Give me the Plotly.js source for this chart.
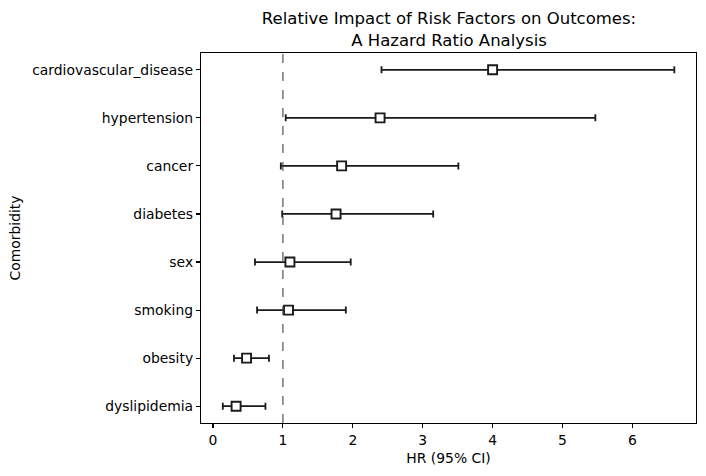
<!DOCTYPE html>
<html>
<head>
<meta charset="utf-8">
<script src="https://cdn.plot.ly/plotly-3.0.1.min.js"></script>
<style>html,body{margin:0;padding:0;background:#fff;}#chart{width:706px;height:476px;}</style>
</head>
<body>
<div id="chart"></div>
<script>
const categories = ["dyslipidemia", "obesity", "smoking", "sex", "diabetes", "cancer", "hypertension", "cardiovascular_disease"];
const hr = [0.33, 0.48, 1.08, 1.10, 1.76, 1.84, 2.39, 4.00];
const ciLow = [0.14, 0.30, 0.63, 0.60, 0.99, 0.97, 1.04, 2.41];
const ciHigh = [0.75, 0.80, 1.90, 1.97, 3.15, 3.51, 5.47, 6.60];
const xTicks = [0, 1, 2, 3, 4, 5, 6];

const errPlus = hr.map((v, i) => ciHigh[i] - v);
const errMinus = hr.map((v, i) => v - ciLow[i]);

const trace = {
  type: 'scatter',
  mode: 'markers',
  x: hr,
  y: categories,
  marker: {symbol: 'square', size: 9, color: '#ffffff', line: {color: '#1a1a1a', width: 1.9}},
  error_x: {type: 'data', symmetric: false, array: errPlus, arrayminus: errMinus,
            color: '#1a1a1a', thickness: 1.8, width: 3.5},
  hoverinfo: 'x+y'
};

const font = {family: 'DejaVu Sans, sans-serif', color: '#000', size: 13.9};

const layout = {
  width: 706, height: 476,
  margin: {l: 201, r: 10, t: 53, b: 53},
  paper_bgcolor: '#fff', plot_bgcolor: '#fff',
  font: font,
  showlegend: false,
  title: {text: 'Relative Impact of Risk Factors on Outcomes:<br>A Hazard Ratio Analysis',
          font: {family: 'DejaVu Sans, sans-serif', size: 16.5, color: '#000'},
          x: 0.636, xanchor: 'center', y: 0.949, yanchor: 'top'},
  xaxis: {
    range: [-0.172, 6.91], tickvals: xTicks, ticktext: xTicks.map(String),
    showgrid: false, zeroline: false, showline: true, mirror: true,
    linecolor: '#000', linewidth: 1.1, ticks: 'outside', ticklen: 4, tickwidth: 1.1, tickcolor: '#000',
    title: {text: 'HR (95% CI)', font: font, standoff: 6}
  },
  yaxis: {
    type: 'category', categoryorder: 'array', categoryarray: categories,
    range: [-0.35, 7.35],
    showgrid: false, zeroline: false, showline: true, mirror: true,
    linecolor: '#000', linewidth: 1.1, ticks: 'outside', ticklen: 4, tickwidth: 1.1, tickcolor: '#000',
    title: {text: 'Comorbidity', font: font, standoff: 8}
  },
  shapes: [{type: 'line', xref: 'x', yref: 'paper', x0: 1, x1: 1, y0: 0, y1: 1,
            line: {color: '#444444', width: 1.1, dash: 'dash'}}]
};

Plotly.newPlot('chart', [trace], layout, {displayModeBar: false, staticPlot: true});
</script>
</body>
</html>
